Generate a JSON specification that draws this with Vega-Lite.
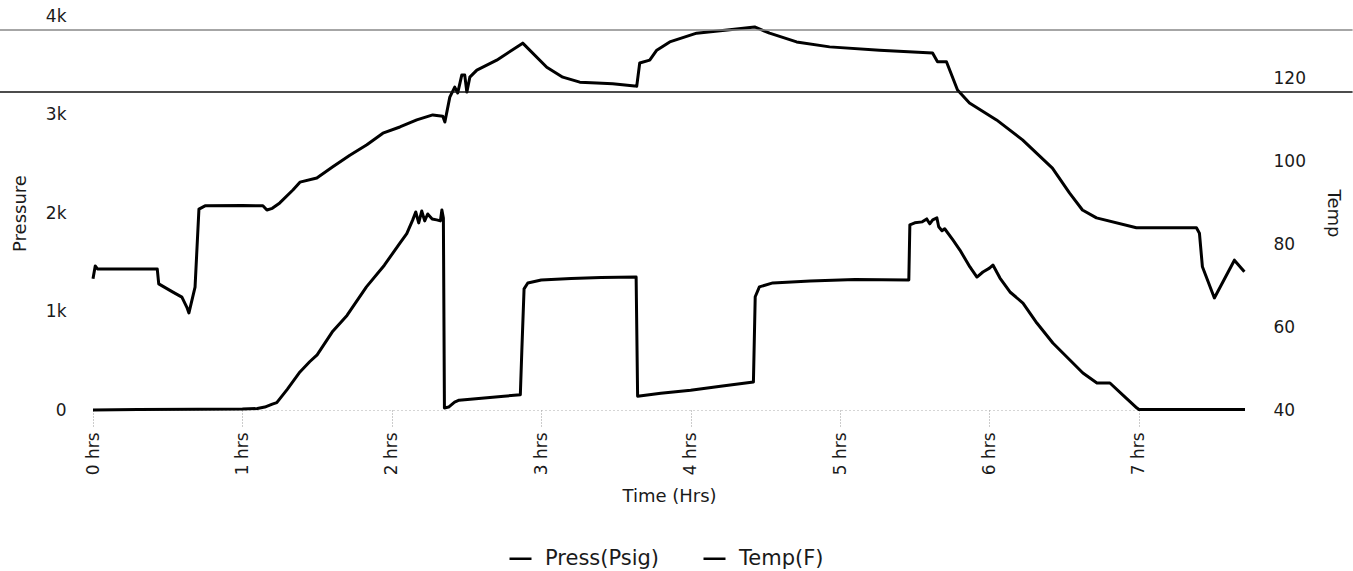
{
  "$schema": "https://vega.github.io/schema/vega-lite/v6.json",
  "width": 1152,
  "height": 394,
  "autosize": {"type": "none"},
  "padding": {"top": 16, "left": 93, "right": 108, "bottom": 161},
  "background": "white",
  "config": {
    "font": "DejaVu Sans",
    "view": {"stroke": null},
    "axis": {"labelColor": "#1a1a1a", "titleColor": "#1a1a1a", "titleFontWeight": "normal", "grid": false}
  },
  "datasets": {
    "press": [
      {"hrs": 0, "psi": 0}, {"hrs": 0.3, "psi": 5}, {"hrs": 0.7, "psi": 8}, {"hrs": 1.0, "psi": 10},
      {"hrs": 1.1, "psi": 15}, {"hrs": 1.15, "psi": 30}, {"hrs": 1.2, "psi": 60}, {"hrs": 1.23, "psi": 75},
      {"hrs": 1.3, "psi": 210}, {"hrs": 1.385, "psi": 386}, {"hrs": 1.45, "psi": 490}, {"hrs": 1.5, "psi": 560},
      {"hrs": 1.605, "psi": 800}, {"hrs": 1.7, "psi": 960}, {"hrs": 1.83, "psi": 1250}, {"hrs": 1.95, "psi": 1470},
      {"hrs": 2.054, "psi": 1695}, {"hrs": 2.1, "psi": 1790}, {"hrs": 2.14, "psi": 1930}, {"hrs": 2.16, "psi": 2010},
      {"hrs": 2.18, "psi": 1900}, {"hrs": 2.2, "psi": 2020}, {"hrs": 2.22, "psi": 1920}, {"hrs": 2.24, "psi": 1990},
      {"hrs": 2.27, "psi": 1940}, {"hrs": 2.3, "psi": 1930}, {"hrs": 2.325, "psi": 1920}, {"hrs": 2.335, "psi": 2030},
      {"hrs": 2.345, "psi": 1950}, {"hrs": 2.352, "psi": 20}, {"hrs": 2.38, "psi": 30}, {"hrs": 2.42, "psi": 80},
      {"hrs": 2.45, "psi": 100}, {"hrs": 2.6, "psi": 120}, {"hrs": 2.75, "psi": 140}, {"hrs": 2.86, "psi": 155},
      {"hrs": 2.87, "psi": 600}, {"hrs": 2.885, "psi": 1230}, {"hrs": 2.91, "psi": 1290}, {"hrs": 3.0, "psi": 1320},
      {"hrs": 3.2, "psi": 1335}, {"hrs": 3.4, "psi": 1345}, {"hrs": 3.635, "psi": 1350}, {"hrs": 3.645, "psi": 140},
      {"hrs": 3.8, "psi": 170}, {"hrs": 4.0, "psi": 200}, {"hrs": 4.2, "psi": 240}, {"hrs": 4.42, "psi": 285},
      {"hrs": 4.432, "psi": 1150}, {"hrs": 4.46, "psi": 1250}, {"hrs": 4.55, "psi": 1290}, {"hrs": 4.8, "psi": 1310},
      {"hrs": 5.1, "psi": 1325}, {"hrs": 5.46, "psi": 1320}, {"hrs": 5.467, "psi": 1880}, {"hrs": 5.5, "psi": 1900},
      {"hrs": 5.55, "psi": 1910}, {"hrs": 5.58, "psi": 1940}, {"hrs": 5.6, "psi": 1890}, {"hrs": 5.62, "psi": 1930},
      {"hrs": 5.648, "psi": 1950}, {"hrs": 5.66, "psi": 1860}, {"hrs": 5.682, "psi": 1820}, {"hrs": 5.7, "psi": 1840},
      {"hrs": 5.755, "psi": 1726}, {"hrs": 5.802, "psi": 1624}, {"hrs": 5.869, "psi": 1452}, {"hrs": 5.916, "psi": 1350},
      {"hrs": 5.956, "psi": 1401}, {"hrs": 6.0, "psi": 1440}, {"hrs": 6.023, "psi": 1472}, {"hrs": 6.07, "psi": 1340},
      {"hrs": 6.137, "psi": 1198}, {"hrs": 6.224, "psi": 1086}, {"hrs": 6.317, "psi": 883}, {"hrs": 6.424, "psi": 680},
      {"hrs": 6.538, "psi": 508}, {"hrs": 6.625, "psi": 376}, {"hrs": 6.719, "psi": 274}, {"hrs": 6.806, "psi": 274},
      {"hrs": 6.893, "psi": 152}, {"hrs": 6.987, "psi": 20}, {"hrs": 7.0, "psi": 5}, {"hrs": 7.4, "psi": 5},
      {"hrs": 7.71, "psi": 5}
    ],
    "temp": [
      {"hrs": 0.0, "degF": 71.6}, {"hrs": 0.015, "degF": 74.7}, {"hrs": 0.03, "degF": 74.0}, {"hrs": 0.43, "degF": 74.0},
      {"hrs": 0.44, "degF": 70.4}, {"hrs": 0.535, "degF": 68.4}, {"hrs": 0.595, "degF": 67.2}, {"hrs": 0.63, "degF": 64.6},
      {"hrs": 0.642, "degF": 63.4}, {"hrs": 0.683, "degF": 69.6}, {"hrs": 0.709, "degF": 88.4}, {"hrs": 0.75, "degF": 89.2},
      {"hrs": 1.0, "degF": 89.3}, {"hrs": 1.137, "degF": 89.2}, {"hrs": 1.164, "degF": 88.2}, {"hrs": 1.2, "degF": 88.6},
      {"hrs": 1.25, "degF": 89.9}, {"hrs": 1.338, "degF": 93.0}, {"hrs": 1.385, "degF": 94.9}, {"hrs": 1.498, "degF": 95.9},
      {"hrs": 1.605, "degF": 98.6}, {"hrs": 1.719, "degF": 101.4}, {"hrs": 1.833, "degF": 103.9}, {"hrs": 1.94, "degF": 106.7},
      {"hrs": 2.054, "degF": 108.2}, {"hrs": 2.167, "degF": 109.9}, {"hrs": 2.274, "degF": 111.1}, {"hrs": 2.341, "degF": 110.8},
      {"hrs": 2.355, "degF": 109.4}, {"hrs": 2.388, "degF": 115.4}, {"hrs": 2.421, "degF": 117.8}, {"hrs": 2.441, "degF": 116.4},
      {"hrs": 2.468, "degF": 120.7}, {"hrs": 2.488, "degF": 120.7}, {"hrs": 2.502, "degF": 116.6}, {"hrs": 2.522, "degF": 120.2},
      {"hrs": 2.569, "degF": 121.9}, {"hrs": 2.702, "degF": 124.3}, {"hrs": 2.876, "degF": 128.4}, {"hrs": 3.037, "degF": 122.6},
      {"hrs": 3.144, "degF": 120.2}, {"hrs": 3.258, "degF": 119.0}, {"hrs": 3.371, "degF": 118.8}, {"hrs": 3.478, "degF": 118.6},
      {"hrs": 3.625, "degF": 118.1}, {"hrs": 3.639, "degF": 118.0}, {"hrs": 3.659, "degF": 123.6}, {"hrs": 3.726, "degF": 124.3},
      {"hrs": 3.773, "degF": 126.7}, {"hrs": 3.86, "degF": 128.7}, {"hrs": 4.04, "degF": 130.8}, {"hrs": 4.261, "degF": 131.6},
      {"hrs": 4.428, "degF": 132.3}, {"hrs": 4.528, "degF": 130.8}, {"hrs": 4.709, "degF": 128.7}, {"hrs": 4.93, "degF": 127.5},
      {"hrs": 5.264, "degF": 126.7}, {"hrs": 5.619, "degF": 126.0}, {"hrs": 5.652, "degF": 123.9}, {"hrs": 5.712, "degF": 123.9},
      {"hrs": 5.786, "degF": 117.1}, {"hrs": 5.866, "degF": 114.0}, {"hrs": 6.047, "degF": 109.9}, {"hrs": 6.221, "degF": 105.1},
      {"hrs": 6.421, "degF": 98.3}, {"hrs": 6.535, "degF": 92.3}, {"hrs": 6.622, "degF": 88.2}, {"hrs": 6.716, "degF": 86.3},
      {"hrs": 6.983, "degF": 83.9}, {"hrs": 7.385, "degF": 83.9}, {"hrs": 7.405, "degF": 82.6}, {"hrs": 7.425, "degF": 74.5},
      {"hrs": 7.505, "degF": 67.0}, {"hrs": 7.639, "degF": 76.1}, {"hrs": 7.706, "degF": 73.3}
    ],
    "scanlines": [
      {"line": "upper", "psi": 3858, "start": -0.63, "end": 8.43},
      {"line": "lower", "psi": 3228, "start": -0.63, "end": 8.43}
    ]
  },
  "layer": [
    {
      "data": {"name": "press"},
      "mark": {"type": "line", "strokeWidth": 3, "strokeJoin": "round"},
      "encoding": {
        "x": {
          "field": "hrs", "type": "quantitative",
          "scale": {"domain": [0, 7.71], "nice": false, "zero": false},
          "axis": {
            "title": "Time (Hrs)", "values": [0, 1, 2, 3, 4, 5, 6, 7],
            "labelExpr": "datum.value + ' hrs'", "labelAngle": 270, "labelFontSize": 17,
            "labelPadding": 4, "labelFlush": false, "labelOverlap": false,
            "tickSize": 18, "tickDash": [1, 2], "tickColor": "#999999",
            "domainColor": "#aaaaaa", "domainDash": [1, 3],
            "titleFontSize": 18, "titlePadding": 13
          }
        },
        "y": {
          "field": "psi", "type": "quantitative",
          "scale": {"domain": [0, 4000], "nice": false},
          "axis": {
            "title": "Pressure", "values": [0, 1000, 2000, 3000, 4000],
            "labelExpr": "datum.value == 0 ? '0' : (datum.value / 1000) + 'k'",
            "labelFontSize": 17, "labelPadding": 27, "ticks": false, "tickSize": 0, "domain": false,
            "titleFontSize": 18, "titlePadding": 16
          }
        },
        "color": {
          "datum": "Press(Psig)", "type": "nominal",
          "scale": {"domain": ["Press(Psig)", "Temp(F)"], "range": ["#000000", "#000000"]},
          "legend": {
            "orient": "none", "legendX": 415, "legendY": 530, "direction": "horizontal", "title": null,
            "symbolType": "stroke", "symbolSize": 484, "symbolStrokeWidth": 2.5,
            "labelFontSize": 21, "labelOffset": 12, "columnPadding": 38, "labelColor": "#1a1a1a", "labelLimit": 300
          }
        }
      }
    },
    {
      "data": {"name": "temp"},
      "mark": {"type": "line", "strokeWidth": 3, "strokeJoin": "round"},
      "encoding": {
        "x": {
          "field": "hrs", "type": "quantitative",
          "scale": {"domain": [0, 7.71], "nice": false, "zero": false},
          "axis": {
            "title": "Time (Hrs)", "values": [0, 1, 2, 3, 4, 5, 6, 7],
            "labelExpr": "datum.value + ' hrs'", "labelAngle": 270, "labelFontSize": 17,
            "labelPadding": 4, "labelFlush": false, "labelOverlap": false,
            "tickSize": 18, "tickDash": [1, 2], "tickColor": "#999999",
            "domainColor": "#aaaaaa", "domainDash": [1, 3],
            "titleFontSize": 18, "titlePadding": 13
          }
        },
        "y": {
          "field": "degF", "type": "quantitative",
          "scale": {"domain": [40, 134.94], "nice": false, "zero": false},
          "axis": {
            "orient": "right", "title": "Temp", "values": [40, 60, 80, 100, 120],
            "labelFontSize": 17, "labelPadding": 28, "ticks": false, "tickSize": 0, "domain": false,
            "titleFontSize": 18, "titlePadding": 18
          }
        },
        "color": {"datum": "Temp(F)", "type": "nominal"}
      }
    },
    {
      "data": {"name": "scanlines"},
      "mark": {"type": "rule", "strokeWidth": 1.5},
      "encoding": {
        "x": {
          "field": "start", "type": "quantitative",
          "scale": {"domain": [0, 7.71], "nice": false, "zero": false},
          "axis": {
            "title": "Time (Hrs)", "values": [0, 1, 2, 3, 4, 5, 6, 7],
            "labelExpr": "datum.value + ' hrs'", "labelAngle": 270, "labelFontSize": 17,
            "labelPadding": 4, "labelFlush": false, "labelOverlap": false,
            "tickSize": 18, "tickDash": [1, 2], "tickColor": "#999999",
            "domainColor": "#aaaaaa", "domainDash": [1, 3],
            "titleFontSize": 18, "titlePadding": 13
          }
        },
        "x2": {"field": "end"},
        "y": {"field": "psi", "type": "quantitative", "scale": {"domain": [0, 4000], "nice": false}, "axis": null},
        "color": {"condition": {"test": "datum.line === 'upper'", "value": "#888888"}, "value": "#111111"}
      }
    }
  ],
  "resolve": {"scale": {"y": "independent"}}
}
